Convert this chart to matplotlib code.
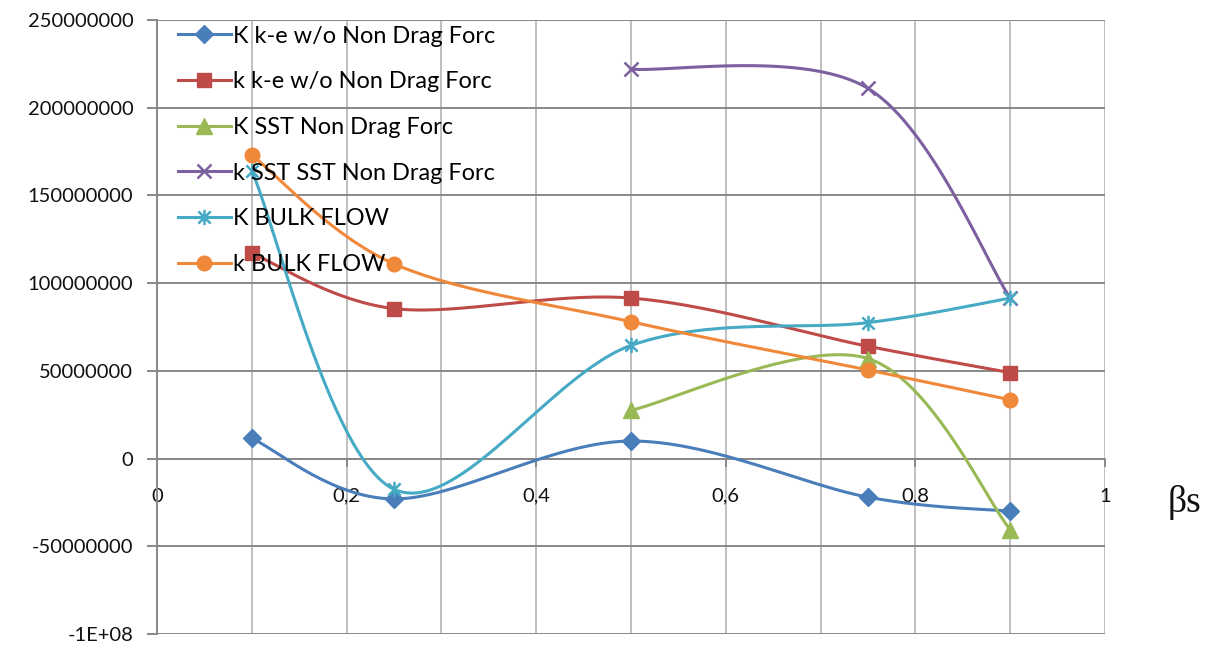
import numpy as np
import matplotlib
matplotlib.use("Agg")
import matplotlib.pyplot as plt
from matplotlib.path import Path
from matplotlib.lines import Line2D
from matplotlib.ticker import MultipleLocator, FixedLocator

plt.rcParams['font.family'] = ['Lato', 'DejaVu Sans']

# --- data -----------------------------------------------------------------
beta_s = [0.1, 0.25, 0.5, 0.75, 0.9]
beta_s_sst = [0.5, 0.75, 0.9]

k_ke_wo_upper = [11.5e6, -23e6, 10e6, -22e6, -30e6]
k_ke_wo_lower = [117e6, 85.5e6, 91.5e6, 64e6, 49e6]
k_sst = [27.5e6, 57e6, -40.5e6]
k_sst_sst = [222e6, 211e6, 91.5e6]
k_bulk_upper = [164e6, -17.5e6, 64.5e6, 77.5e6, 91.5e6]
k_bulk_lower = [173e6, 111e6, 78e6, 50.5e6, 33.5e6]

labels = ["K k-e w/o Non Drag Forc", "k k-e w/o Non Drag Forc",
          "K SST Non Drag Forc", "k SST SST Non Drag Forc",
          "K BULK FLOW", "k BULK FLOW"]

x_ticks = [0, 0.2, 0.4, 0.6, 0.8, 1.0]
x_tick_labels = ["0", "0,2", "0,4", "0,6", "0,8", "1"]
y_ticks = [-100e6, -50e6, 0, 50e6, 100e6, 150e6, 200e6, 250e6]
y_tick_labels = ["-1E+08", "-50000000", "0", "50000000", "100000000",
                 "150000000", "200000000", "250000000"]

# --- styling ----------------------------------------------------------------
# asterisk marker: x plus a vertical bar
_star_verts = [(-1, -1), (1, 1), (-1, 1), (1, -1), (0, -1.25), (0, 1.25)]
_star_codes = [Path.MOVETO, Path.LINETO] * 3
star_marker = Path(_star_verts, _star_codes)

styles = [
    dict(color="#4A7EBB", marker="D", ms=9),
    dict(color="#BE4B48", marker="s", ms=10),
    dict(color="#98B954", marker="^", ms=11),
    dict(color="#7D60A0", marker="x", ms=10, mew=1.8),
    dict(color="#46AAC5", marker=star_marker, ms=11, mew=1.8),
    dict(color="#F0883A", marker="o", ms=10.5),
]


def smooth_curve(xs, ys, n=60):
    """Cubic Bezier spline through the points (Catmull-Rom control points)."""
    p = np.column_stack([xs, ys]).astype(float)
    out = []
    for i in range(len(p) - 1):
        p0 = p[i - 1] if i > 0 else p[i]
        p1, p2 = p[i], p[i + 1]
        p3 = p[i + 2] if i + 2 < len(p) else p[i + 1]
        c1 = p1 + (p2 - p0) / 6.0
        c2 = p2 - (p3 - p1) / 6.0
        t = np.linspace(0, 1, n)[:, None]
        seg = ((1 - t) ** 3) * p1 + 3 * ((1 - t) ** 2) * t * c1 \
            + 3 * (1 - t) * t ** 2 * c2 + t ** 3 * p2
        out.append(seg if i == 0 else seg[1:])
    s = np.vstack(out)
    return s[:, 0], s[:, 1]


fig = plt.figure(figsize=(12.16, 6.48), dpi=100)
ax = fig.add_axes([157 / 1216, 1 - 634 / 648, (1105 - 157) / 1216, (634 - 20) / 648])

series = [
    (beta_s, k_ke_wo_upper),
    (beta_s, k_ke_wo_lower),
    (beta_s_sst, k_sst),
    (beta_s_sst, k_sst_sst),
    (beta_s, k_bulk_upper),
    (beta_s, k_bulk_lower),
]

handles = []
for (xs, ys), st, lab in zip(series, styles, labels):
    sx, sy = smooth_curve(xs, ys)
    ax.plot(sx, sy, color=st["color"], lw=2.2, zorder=3, solid_capstyle="round")
    ax.plot(xs, ys, linestyle="none", marker=st["marker"], ms=st["ms"],
            color=st["color"], mec=st["color"], mew=st.get("mew", 1.0), zorder=4)
    handles.append(Line2D([0], [0], color=st["color"], lw=2.2,
                          marker=st["marker"], ms=st["ms"], mec=st["color"],
                          mew=st.get("mew", 1.0)))

ax.set_xlim(0, 1)
ax.set_ylim(-100e6, 250e6)

# grid
ax.xaxis.set_major_locator(FixedLocator(x_ticks))
ax.xaxis.set_minor_locator(MultipleLocator(0.1))
ax.set_xticklabels(x_tick_labels)
ax.yaxis.set_major_locator(FixedLocator(y_ticks))
ax.set_yticklabels(y_tick_labels)
ax.grid(True, which="both", axis="x", color="#BFBFBF", lw=1.4, zorder=0)
ax.grid(True, which="major", axis="y", color="#888888", lw=1.4, zorder=0)
ax.set_axisbelow(True)

for side in ["top", "right"]:
    ax.spines[side].set_visible(False)
ax.spines["left"].set_color("#888888")
ax.spines["left"].set_linewidth(1.4)
ax.spines["bottom"].set_position(("data", 0))
ax.spines["bottom"].set_color("#888888")
ax.spines["bottom"].set_linewidth(1.4)

ax.tick_params(axis="y", which="major", direction="out", length=7, width=1.4,
               color="#888888", pad=10, labelsize=14.5, labelcolor="#111111")
ax.tick_params(axis="x", which="major", direction="out", length=6, width=1.4,
               color="#888888", pad=15, labelsize=14.5, labelcolor="#111111")
ax.tick_params(axis="x", which="minor", length=0)

fig.text(1185 / 1216, 1 - 503 / 648, "βs", family=["Liberation Serif", "DejaVu Serif"],
         fontsize=27, ha="center", va="center", color="#111111")

ax.legend(handles, labels, loc="upper left",
          bbox_to_anchor=(173 / 1216, 1 - 21 / 648), bbox_transform=fig.transFigure,
          frameon=False, fontsize=16.9, labelspacing=1.05, handlelength=2.25,
          handletextpad=0.12, borderpad=0.2, borderaxespad=0)

fig.savefig("out.png", dpi=100)
